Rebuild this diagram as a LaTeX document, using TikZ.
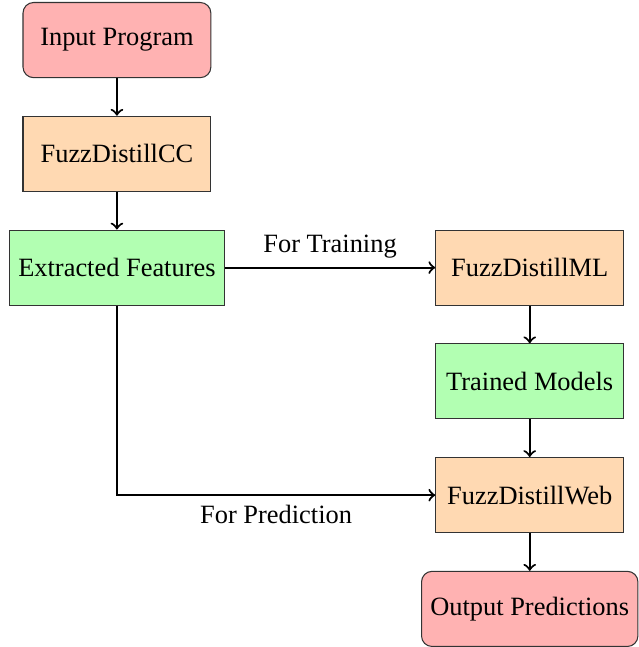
\documentclass[tikz,border=0pt]{standalone}
\usepackage{fontspec}
\setmainfont{Liberation Serif}
\usetikzlibrary{positioning}
\tikzset{
  box/.style={draw=black!80,minimum width=2.5cm,minimum height=1cm,align=center},
  term/.style={box,rounded corners,fill=red!30},
  proc/.style={box,fill=orange!30},
  feat/.style={box,fill=green!30},
  flow/.style={->,thick}
}
\begin{document}
\begin{tikzpicture}[node distance=0.5cm]
\node[term](input){Input Program};
\node[proc,below=of input](cc){FuzzDistillCC};
\node[feat,below=of cc](feats){Extracted Features};
\node[proc,right=2.8cm of feats](ml){FuzzDistillML};
\node[feat,below=of ml](models){Trained Models};
\node[proc,below=of models](web){FuzzDistillWeb};
\node[term,below=of web](output){Output Predictions};
\useasboundingbox([xshift=-3.4pt,yshift=0.75pt]feats.west|-input.north) rectangle ++(239.6pt,-242.6pt);
\draw[flow](input)--(cc);
\draw[flow](cc)--(feats);
\draw[flow](feats)--node[above]{For Training}(ml);
\draw[flow](ml)--(models);
\draw[flow](models)--(web);
\draw[flow](feats)|-node[below,pos=0.75]{For Prediction}(web);
\draw[flow](web)--(output);
\end{tikzpicture}
\end{document}
